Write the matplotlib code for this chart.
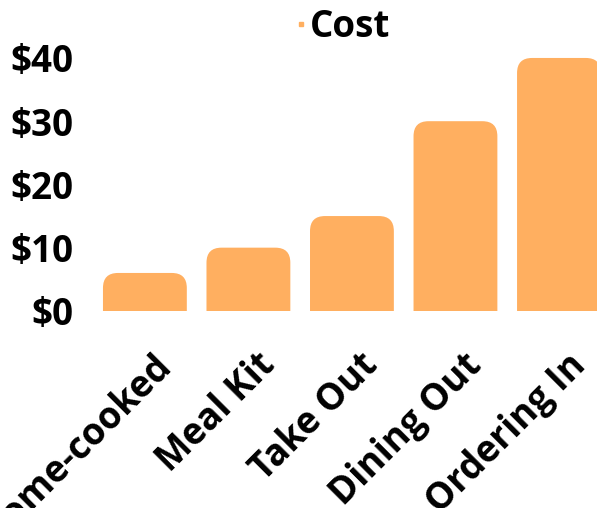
import numpy as np
import matplotlib
matplotlib.use('Agg')
import matplotlib.pyplot as plt
import matplotlib.transforms as mtransforms
from matplotlib.patches import FancyBboxPatch
from matplotlib.lines import Line2D

categories = ["Home-cooked", "Meal Kit", "Take Out", "Dining Out", "Ordering In"]
cost = [6, 10, 15, 30, 40]
y_ticks = [0, 10, 20, 30, 40]
y_labels = ["$0", "$10", "$20", "$30", "$40"]

bar_color = '#ffaf60'
font_size = 26.5
font_weight = 'bold'

plt.rcParams['font.family'] = ['Open Sans', 'DejaVu Sans']

fig = plt.figure(figsize=(5.97, 5.08), dpi=100)
ax = fig.add_axes([0.156, 0.388, 0.867, 0.5228])
ax.set_xlim(-0.5, len(categories) - 0.5)
ax.set_ylim(0, 42)

x = np.arange(len(categories))
bars = ax.bar(x, cost, width=0.81, color=bar_color)

# swap plain bars for ones with rounded tops (bottom corners hidden below y=0)
fig.canvas.draw()
px_per_x = ax.transData.transform((1, 0))[0] - ax.transData.transform((0, 0))[0]
px_per_y = ax.transData.transform((0, 1))[1] - ax.transData.transform((0, 0))[1]
radius_px = 15
rx = radius_px / px_per_x
ry = radius_px / px_per_y
for b in bars:
    b.set_visible(False)
    patch = FancyBboxPatch((b.get_x(), -ry), b.get_width(), b.get_height() + ry,
                           boxstyle=f"round,pad=0,rounding_size={rx}",
                           mutation_aspect=ry / rx,
                           facecolor=bar_color, edgecolor='none')
    ax.add_patch(patch)

ax.set_yticks(y_ticks)
ax.set_yticklabels(y_labels, fontsize=font_size, fontweight=font_weight)
ax.set_xticks(x)
ax.set_xticklabels(categories, fontsize=font_size, fontweight=font_weight,
                   rotation=45, ha='right', va='center', rotation_mode='anchor')
ax.tick_params(axis='y', length=0, pad=14)
ax.tick_params(axis='x', length=0, pad=35)
shift = mtransforms.ScaledTranslation(15 / 72, 0, fig.dpi_scale_trans)
for lab in ax.get_xticklabels():
    lab.set_transform(lab.get_transform() + shift)
for s in ax.spines.values():
    s.set_visible(False)

handle = Line2D([], [], linestyle='none', marker='s', markersize=3.5, color=bar_color)
fig.legend([handle], ["Cost"], loc='upper center', bbox_to_anchor=(343 / 597, 1.05),
           frameon=False, handlelength=0.3, handletextpad=0.1,
           prop={'size': font_size, 'weight': font_weight})

fig.savefig('out.png', dpi=100)
